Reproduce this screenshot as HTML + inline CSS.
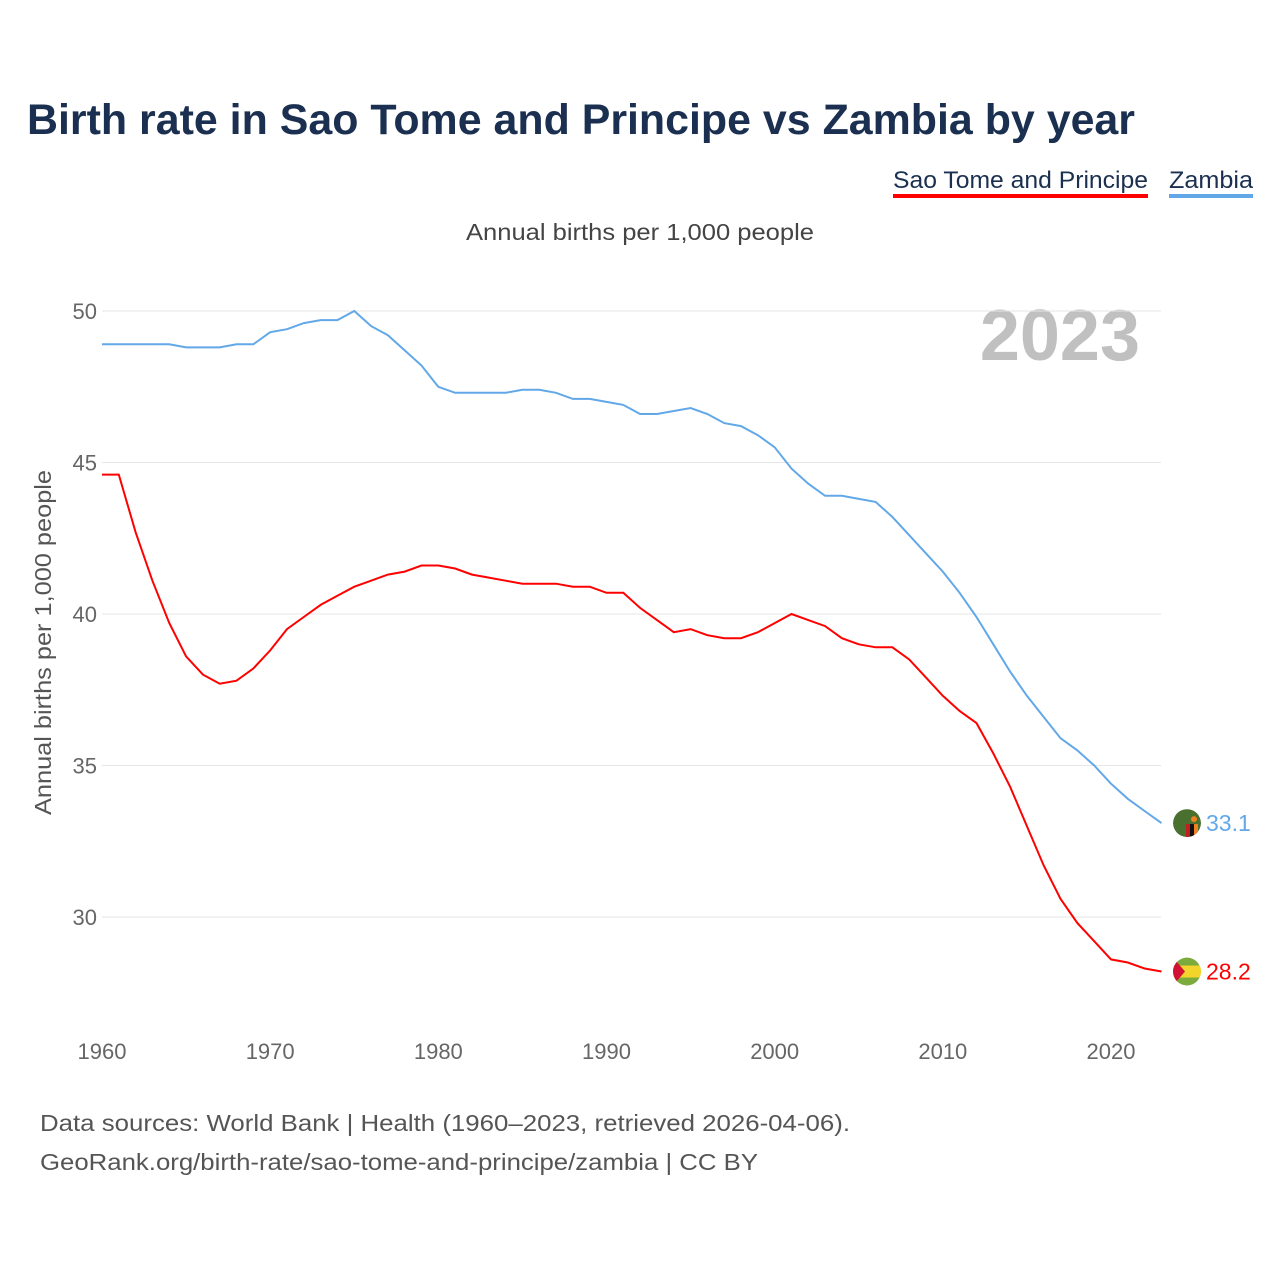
<!DOCTYPE html>
<html><head><meta charset="utf-8"><style>
body{margin:0;background:#fff;font-family:"Liberation Sans",sans-serif;}
svg text{font-family:"Liberation Sans",sans-serif;}
</style></head><body>
<svg width="1280" height="1280" viewBox="0 0 1280 1280">
<defs><clipPath id="c1"><circle cx="1187" cy="0" r="14"/></clipPath></defs>
<text x="27" y="134" font-size="43" font-weight="bold" fill="#1b3050" textLength="1108" lengthAdjust="spacingAndGlyphs">Birth rate in Sao Tome and Principe vs Zambia by year</text>
<g><text x="893" y="188" font-size="24" fill="#1b3050" textLength="255" lengthAdjust="spacingAndGlyphs">Sao Tome and Principe</text><rect x="893" y="194" width="255" height="4" fill="#ff0000"/></g>
<g><text x="1169" y="188" font-size="24" fill="#1b3050" textLength="84" lengthAdjust="spacingAndGlyphs">Zambia</text><rect x="1169" y="194" width="84" height="4" fill="#62a8e8"/></g>
<text x="466" y="240" font-size="23" fill="#444" textLength="348" lengthAdjust="spacingAndGlyphs">Annual births per 1,000 people</text>
<text x="1140" y="360" font-size="72" font-weight="bold" fill="#c0c0c0" text-anchor="end">2023</text>
<text transform="translate(51,815) rotate(-90)" font-size="23" fill="#555" textLength="345" lengthAdjust="spacingAndGlyphs">Annual births per 1,000 people</text>
<g id="grid"></g><g id="xt"></g><g id="lines"></g>
<text x="40" y="1131" font-size="23" fill="#555" textLength="810" lengthAdjust="spacingAndGlyphs">Data sources: World Bank | Health (1960–2023, retrieved 2026-04-06).</text>
<text x="40" y="1170" font-size="23" fill="#555" textLength="718" lengthAdjust="spacingAndGlyphs">GeoRank.org/birth-rate/sao-tome-and-principe/zambia | CC BY</text>
</svg>
<script>
const years=[];for(let y=1960;y<=2023;y++)years.push(y);
const zambia=[48.9,48.9,48.9,48.9,48.9,48.8,48.8,48.8,48.9,48.9,49.3,49.4,49.6,49.7,49.7,50.0,49.5,49.2,48.7,48.2,47.5,47.3,47.3,47.3,47.3,47.4,47.4,47.3,47.1,47.1,47.0,46.9,46.6,46.6,46.7,46.8,46.6,46.3,46.2,45.9,45.5,44.8,44.3,43.9,43.9,43.8,43.7,43.2,42.6,42.0,41.4,40.7,39.9,39.0,38.1,37.3,36.6,35.9,35.5,35.0,34.4,33.9,33.5,33.1];
const stp=[44.6,44.6,42.7,41.1,39.7,38.6,38.0,37.7,37.8,38.2,38.8,39.5,39.9,40.3,40.6,40.9,41.1,41.3,41.4,41.6,41.6,41.5,41.3,41.2,41.1,41.0,41.0,41.0,40.9,40.9,40.7,40.7,40.2,39.8,39.4,39.5,39.3,39.2,39.2,39.4,39.7,40.0,39.8,39.6,39.2,39.0,38.9,38.9,38.5,37.9,37.3,36.8,36.4,35.4,34.3,33.0,31.7,30.6,29.8,29.2,28.6,28.5,28.3,28.2];
const yTicks=[30,35,40,45,50];
const xTicks=[1960,1970,1980,1990,2000,2010,2020];
const NS="http://www.w3.org/2000/svg";
const X=y=>102+(y-1960)*(1009/60);
const Y=v=>917-(v-30)*30.3;
function mk(t,a,p){const e=document.createElementNS(NS,t);for(const k in a)e.setAttribute(k,a[k]);p.appendChild(e);return e;}
const g=document.getElementById('grid');
yTicks.forEach(v=>{
 const l=mk('line',{x1:102,x2:1161,y1:Y(v),y2:Y(v),stroke:'#e6e6e6','stroke-width':1},g);
 
 
 const t=mk('text',{x:97,y:Y(v)+8,'font-size':22,fill:'#666','text-anchor':'end'},g);t.textContent=v;
 
 
});
const xt=document.getElementById('xt');
xTicks.forEach(v=>{
 const t=mk('text',{x:X(v),y:1059,'font-size':22,fill:'#666','text-anchor':'middle'},xt);t.textContent=v;
 
 
});
const L=document.getElementById('lines');
function series(d,c,name,lab){
 const p=mk('path',{d:d.map((v,i)=>(i?'L':'M')+X(years[i]).toFixed(1)+','+Y(v).toFixed(1)).join(''),fill:'none',stroke:c,'stroke-width':2},L);
 
 
 const last=d[d.length-1],yy=Y(last);
 const fg=mk('g',{transform:`translate(0,${yy})`,'clip-path':'url(#c1)'},L);
 
 
 mk('circle',{cx:1187,cy:0,r:14,fill:name==='zambia'?'#4a7030':'#7aab3c'},fg);
 if(name==='stp'){mk('rect',{x:1173,y:-6,width:28,height:12,fill:'#f3d42a'},fg);mk('path',{d:'M1173,-14L1185,0L1173,14Z',fill:'#d21034'},fg);}
 else{mk('rect',{x:1186,y:1,width:4,height:13,fill:'#c02020'},fg);mk('rect',{x:1190,y:1,width:4,height:13,fill:'#111'},fg);mk('rect',{x:1194,y:1,width:4,height:13,fill:'#f08020'},fg);mk('circle',{cx:1194,cy:-4,r:3,fill:'#f08020'},fg);}
 const t=mk('text',{x:1206,y:yy+8,'font-size':23,fill:c},L);t.textContent=lab;
 
 
}
series(zambia,'#62a8e8','zambia',zambia[zambia.length-1].toFixed(1));
series(stp,'#ff0000','stp',stp[stp.length-1].toFixed(1));
</script>
</body></html>
